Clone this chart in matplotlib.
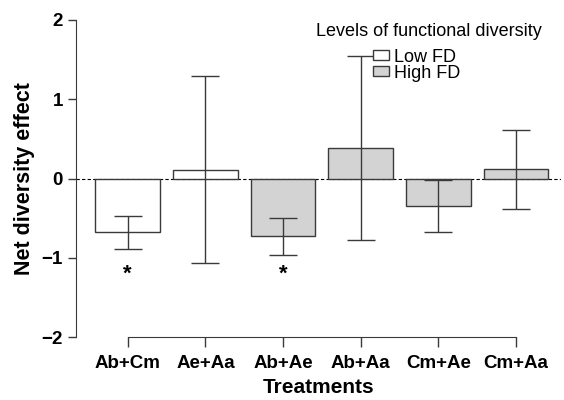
import numpy as np
import matplotlib.pyplot as plt
from matplotlib.patches import Patch

plt.rcParams['font.family'] = ['Liberation Sans', 'DejaVu Sans']

# 数据
treatments = ['Ab+Cm', 'Ae+Aa', 'Ab+Ae', 'Ab+Aa', 'Cm+Ae', 'Cm+Aa']
effect = [-0.68, 0.11, -0.73, 0.38, -0.35, 0.115]
err = [0.21, 1.18, 0.23, 1.16, 0.33, 0.495]
fd_level = ['Low', 'Low', 'High', 'High', 'High', 'High']
significant = [True, False, True, False, False, False]

colors = {'Low': 'white', 'High': '#d3d3d3'}
edge = '#3a3a3a'

fig = plt.figure(figsize=(5.64, 4), dpi=100)
ax = fig.add_axes([0.1348, 0.1575, 0.86, 0.7925])

x = np.arange(len(treatments))
ax.axhline(0, color='black', lw=0.8, ls=(0, (3, 2)), zorder=1)
ax.bar(x, effect, width=0.83, color=[colors[l] for l in fd_level],
       edgecolor=edge, linewidth=1.0, zorder=2)
ax.errorbar(x, effect, yerr=err, fmt='none', ecolor=edge, elinewidth=1.0,
            capsize=10.4, capthick=1.0, zorder=3)

# 显著性星号
for xi, s in zip(x, significant):
    if s:
        ax.text(xi, -1.21, '*', ha='center', va='center', fontsize=16, fontweight='bold')

ax.set_xlim(-0.665, 5.58)
ax.set_ylim(-2, 2)
ax.set_yticks([-2, -1, 0, 1, 2])
ax.set_yticklabels(['\u22122', '\u22121', '0', '1', '2'])
ax.set_xticks(x)
ax.set_xticklabels(treatments)

for sp in ['top', 'right']:
    ax.spines[sp].set_visible(False)
ax.spines['left'].set_bounds(-2, 2)
ax.spines['bottom'].set_bounds(0, 5)
ax.spines['left'].set_color(edge)
ax.spines['bottom'].set_color(edge)

ax.tick_params(axis='both', colors=edge, labelcolor='black', width=1.0)
ax.tick_params(axis='x', length=7, pad=6)
ax.tick_params(axis='y', length=6, pad=3.5)
for lab in ax.get_xticklabels() + ax.get_yticklabels():
    lab.set_fontsize(13.5)
    lab.set_fontweight('bold')

ax.set_xlabel('Treatments', fontsize=15, fontweight='bold', labelpad=4)
ax.set_ylabel('Net diversity effect', fontsize=15.5, fontweight='bold', labelpad=5)

# 图例
ax.text(0.728, 0.965, 'Levels of functional diversity', transform=ax.transAxes,
        ha='center', va='center', fontsize=13)
handles = [Patch(facecolor='white', edgecolor=edge, label='Low FD'),
           Patch(facecolor='#d3d3d3', edgecolor=edge, label='High FD')]
ax.legend(handles=handles, loc='upper left', bbox_to_anchor=(0.612, 0.91),
          frameon=False, fontsize=13, handlelength=0.9, handleheight=0.5,
          handletextpad=0.25, labelspacing=-0.05, borderaxespad=0, borderpad=0)

fig.savefig('out.png', dpi=100)
